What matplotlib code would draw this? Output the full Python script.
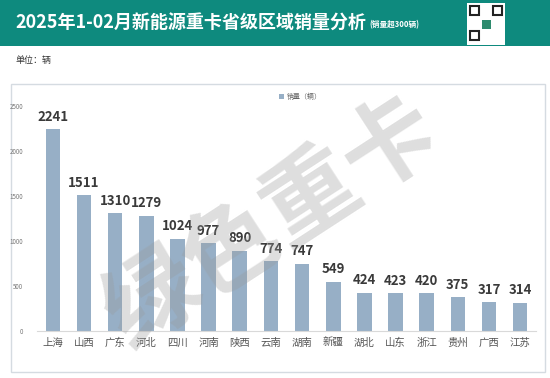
import matplotlib
matplotlib.use("Agg")
import matplotlib.pyplot as plt
from matplotlib.patches import Rectangle

plt.rcParams['font.family'] = ['Noto Sans CJK SC', 'DejaVu Sans']

provinces = ['上海', '山西', '广东', '河北', '四川', '河南', '陕西', '云南', '湖南',
             '新疆', '湖北', '山东', '浙江', '贵州', '广西', '江苏']
sales = [2241, 1511, 1310, 1279, 1024, 977, 890, 774, 747, 549, 424, 423, 420, 375, 317, 314]
yticks = [0, 500, 1000, 1500, 2000, 2500]

W, H = 550, 378
fig = plt.figure(figsize=(W / 100, H / 100), dpi=100)
fig.patch.set_facecolor('white')

# header band
fig.patches.append(Rectangle((0, 1 - 46 / H), 1, 46 / H, transform=fig.transFigure,
                             facecolor='#0E8A7E', edgecolor='none', zorder=0))
fig.text(15 / W, 1 - 23 / H, '2025年1-02月新能源重卡省级区域销量分析', color='white',
         fontsize=13, fontweight='bold', va='center', ha='left')
fig.text(369 / W, 1 - 25 / H, '(销量超300辆)', color='white', fontsize=5.5,
         fontweight='bold', va='center', ha='left')

# qr placeholder
fig.patches.append(Rectangle((467 / W, 1 - 45 / H), 38 / W, 42 / H, transform=fig.transFigure,
                             facecolor='white', edgecolor='none', zorder=1))
for (qx, qy) in [(470, 6), (493, 6), (470, 31)]:
    fig.patches.append(Rectangle((qx / W, 1 - (qy + 9) / H), 9 / W, 9 / H,
                                 transform=fig.transFigure, facecolor='none',
                                 edgecolor='#222222', linewidth=1.5, zorder=2))
fig.patches.append(Rectangle((482 / W, 1 - 29 / H), 9 / W, 9 / H, transform=fig.transFigure,
                             facecolor='#2e8b6e', edgecolor='none', zorder=2))

fig.text(15 / W, 1 - 60 / H, '单位：辆', fontsize=6.5, color='#333333', va='center')

# chart frame
fig.patches.append(Rectangle((11 / W, 1 - 372 / H), 534 / W, 288 / H, transform=fig.transFigure,
                             facecolor='white', edgecolor='#d5dbe1', linewidth=1, zorder=-1))

ax = fig.add_axes([37.3 / W, 1 - 331 / H, 498.4 / W, 225 / H])
ax.set_zorder(5)
ax.set_facecolor('none')
x = list(range(len(provinces)))
bars = ax.bar(x, sales, width=0.47, color='#97AFC6', label='销量（辆）', zorder=2)
for xi, v in zip(x, sales):
    ax.text(xi, v + 60, str(v), ha='center', va='bottom', fontsize=9.5,
            fontweight='bold', color='#3a3a3a', clip_on=False)
ax.set_xlim(-0.5, len(provinces) - 0.5)
ax.set_ylim(0, 2500)
ax.set_yticks(yticks)
ax.set_yticklabels([str(t) for t in yticks], fontsize=4.5, color='#777777')
ax.set_xticks(x)
ax.set_xticklabels(provinces, fontsize=7.5, color='#555555')
ax.tick_params(axis='both', length=0)
ax.tick_params(axis='y', pad=10)
ax.tick_params(axis='x', pad=5)
for s in ['top', 'right', 'left']:
    ax.spines[s].set_visible(False)
ax.spines['bottom'].set_color('#d9d9d9')
ax.spines['bottom'].set_linewidth(0.8)

leg = fig.legend(loc='center', bbox_to_anchor=(300 / W, 1 - 97 / H), frameon=False,
                 fontsize=5, handlelength=0.7, handleheight=0.7, handletextpad=0.4)
for t in leg.get_texts():
    t.set_color('#666666')

# watermark
fig.text(272 / W, 1 - 224 / H, '绿色重卡', fontsize=68, fontweight='bold', color='#9a9a9a',
         alpha=0.32, rotation=33, ha='center', va='center', zorder=10)

fig.savefig('out.png', dpi=100, facecolor='white')
